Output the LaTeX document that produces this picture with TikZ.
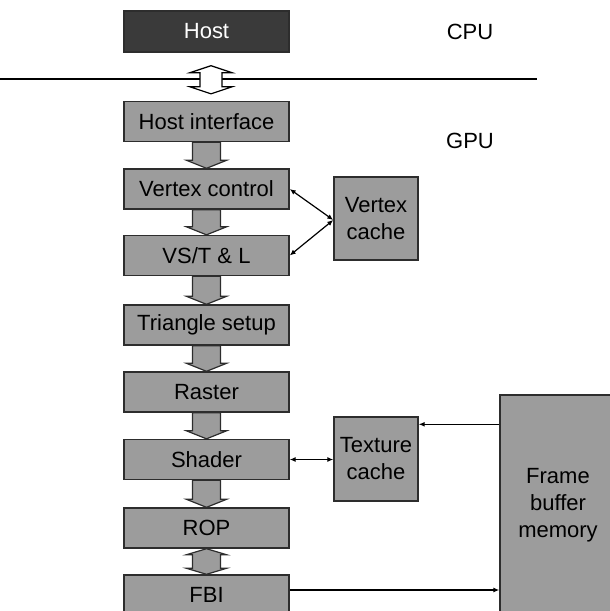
\documentclass[tikz,border=0pt]{standalone}
\usepackage{fontspec}
\setmainfont{Liberation Sans}
\usetikzlibrary{calc,arrows.meta}
\definecolor{boxgray}{RGB}{156,156,156}
\definecolor{hostgray}{RGB}{58,58,58}
\definecolor{edgegray}{RGB}{45,45,45}
\tikzset{
  stage/.style={draw=edgegray, line width=1.4pt, fill=boxgray, minimum width=165pt, minimum height=40pt, inner sep=0pt, font=\fontsize{22}{27}\selectfont, align=center},
  cachebox/.style={draw=edgegray, line width=1.4pt, fill=boxgray, minimum width=84pt, minimum height=84pt, inner sep=0pt, font=\fontsize{22}{27}\selectfont, align=center},
  lbl/.style={font=\fontsize{22}{27}\selectfont},
  blockarrow/.style={draw=edgegray, line width=1.2pt, fill=boxgray, line join=miter},
  link/.style={draw=black, line width=1.2pt, {Latex[length=6pt,width=5pt]}-{Latex[length=6pt,width=5pt]}},
  linkto/.style={draw=black, line width=1.2pt, -{Latex[length=6pt,width=5pt]}}
}
\newcommand{\gdownarrow}[2]{%
  \draw[blockarrow] ($(#1.south)+(-14,0)$) -- ($(#1.south)+(14,0)$) -- ($(#2.north)+(14,-8)$) -- ($(#2.north)+(20,-8)$) -- (#2.north) -- ($(#2.north)+(-20,-8)$) -- ($(#2.north)+(-14,-8)$) -- cycle;}
\begin{document}
\begin{tikzpicture}[x=1pt,y=-1pt]
\useasboundingbox (0,0) rectangle (610,611);
\begin{scope}
\clip (0,0) rectangle (610,611);
% bus line
\draw[line width=1.6pt] (0,79) -- (537,79);
% nodes
\node[stage, fill=hostgray, text=white, minimum height=41pt] (host) at (206.5,31.5) {Host};
\node[stage] (hi) at (206.5,121.5) {Host interface};
\node[stage] (vc) at (206.5,189) {Vertex control};
\node[stage] (vs) at (206.5,255.5) {VS/T \& L};
\node[stage] (ts) at (206.5,325) {Triangle setup};
\node[stage] (ra) at (206.5,392) {Raster};
\node[stage] (sh) at (206.5,459.5) {Shader};
\node[stage] (rop) at (206.5,528) {ROP};
\node[stage] (fbi) at (206.5,595) {FBI};
\node[cachebox, minimum height=83pt] (vcache) at (376,218.5) {Vertex\\cache};
\node[cachebox] (tcache) at (376,459) {Texture\\cache};
\node[cachebox, minimum width=116pt, minimum height=220pt] (fbm) at (558,505) {Frame\\buffer\\memory};
\node[lbl] (cpu) at (470,32) {CPU};
\node[lbl] (gpu) at (470,141) {GPU};
% hollow double arrow host <-> host interface
\coordinate (ht) at ($(host.south)+(4.5,13)$);
\coordinate (hb) at ($(hi.north)+(4.5,-7)$);
\draw[line width=1.2pt, fill=white, line join=miter]
  (ht) -- ($(ht)+(21,7)$) -- ($(ht)+(11,7)$) -- ($(hb)+(11,-7)$) -- ($(hb)+(21,-7)$) -- (hb)
  -- ($(hb)+(-21,-7)$) -- ($(hb)+(-11,-7)$) -- ($(ht)+(-11,7)$) -- ($(ht)+(-21,7)$) -- cycle;
% gray block arrows
\gdownarrow{hi}{vc}
\gdownarrow{vc}{vs}
\gdownarrow{vs}{ts}
\gdownarrow{ts}{ra}
\gdownarrow{ra}{sh}
\gdownarrow{sh}{rop}
% ROP <-> FBI double block arrow
\draw[blockarrow] (rop.south) -- ($(rop.south)+(20,6)$) -- ($(rop.south)+(14,6)$) -- ($(fbi.north)+(14,-6)$) -- ($(fbi.north)+(20,-6)$) -- (fbi.north)
  -- ($(fbi.north)+(-20,-6)$) -- ($(fbi.north)+(-14,-6)$) -- ($(rop.south)+(-14,6)$) -- ($(rop.south)+(-20,6)$) -- cycle;
% connectors
\draw[link] (vc.east) -- ($(vcache.west)+(0,1.5)$);
\draw[link] (vs.east) -- ($(vcache.west)+(0,1.5)$);
\draw[link] (sh.east) -- (sh.east -| tcache.west);
\coordinate (tcin) at ($(tcache.north east)+(0,8)$);
\draw[linkto] (tcin -| fbm.west) -- (tcin);
\coordinate (fbiout) at ($(fbi.east)+(0,-5)$);
\draw[linkto] (fbiout) -- (fbiout -| fbm.west);
\end{scope}
\end{tikzpicture}
\end{document}
